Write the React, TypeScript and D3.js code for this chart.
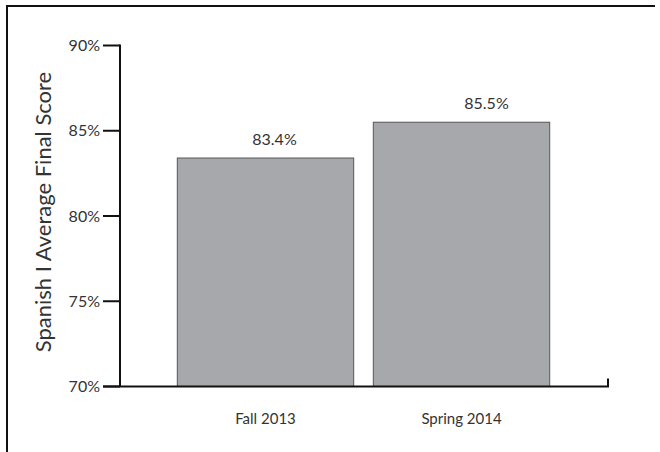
import * as d3 from 'd3'
import { useEffect, useRef } from 'react'

const categories = ['Fall 2013', 'Spring 2014']
const scores = [83.4, 85.5]
const yTicks = [70, 75, 80, 85, 90]

const width = 660, height = 452

const chart = (node: SVGSVGElement) => {
  const svg = d3.select(node)
  svg.selectAll('*').remove()

  const y = d3.scaleLinear().domain([70, 90]).range([386.5, 45.5])
  const x = d3.scaleBand<string>()
    .domain(categories)
    .range([167.5, 559.5])
    .paddingInner(0.1)
    .paddingOuter(0.05)

  const g = svg.append('g').attr('font-family', 'Lato, "Open Sans", sans-serif')

  // frame (top + left only)
  g.append('path')
    .attr('d', 'M7,452V6H655')
    .attr('fill', 'none')
    .attr('stroke', '#111')
    .attr('stroke-width', 2)

  // bars
  g.append('g')
    .selectAll('rect')
    .data(scores)
    .join('rect')
    .attr('x', (d, i) => x(categories[i])!)
    .attr('y', d => y(d))
    .attr('width', x.bandwidth())
    .attr('height', d => y(70) - y(d))
    .attr('fill', '#a7a8ab')
    .attr('stroke', '#555')
    .attr('stroke-width', 1)

  // value labels
  const nudge = [9, 25]
  g.append('g')
    .selectAll('text')
    .data(scores)
    .join('text')
    .attr('x', (d, i) => x(categories[i])! + x.bandwidth() / 2 + nudge[i])
    .attr('y', d => y(d) - 13)
    .attr('text-anchor', 'middle')
    .attr('font-size', 16)
    .attr('fill', '#333')
    .text(d => `${d.toFixed(1)}%`)

  // y axis
  const axis = g.append('g').attr('stroke', '#111').attr('stroke-width', 2)
  axis.append('line')
    .attr('x1', 120).attr('x2', 120)
    .attr('y1', y(90) - 1).attr('y2', y(70))
  axis.selectAll('line.tick')
    .data(yTicks)
    .join('line')
    .attr('class', 'tick')
    .attr('x1', 103).attr('x2', 120)
    .attr('y1', d => y(d)).attr('y2', d => y(d))

  // x axis baseline + end tick
  axis.append('path')
    .attr('fill', 'none')
    .attr('d', `M103,${y(70)}H608V${y(70) - 8}`)

  g.append('g')
    .selectAll('text')
    .data(yTicks)
    .join('text')
    .attr('x', 100)
    .attr('y', d => y(d))
    .attr('dy', '0.35em')
    .attr('text-anchor', 'end')
    .attr('font-size', 16)
    .attr('fill', '#333')
    .text(d => `${d}%`)

  g.append('g')
    .selectAll('text')
    .data(categories)
    .join('text')
    .attr('x', d => x(d)! + x.bandwidth() / 2)
    .attr('y', 424)
    .attr('text-anchor', 'middle')
    .attr('font-size', 15)
    .attr('fill', '#333')
    .text(d => d)

  g.append('text')
    .attr('transform', `translate(51,212) rotate(-90)`)
    .attr('text-anchor', 'middle')
    .attr('font-size', 22)
    .attr('fill', '#333')
    .text('Spanish I Average Final Score')
}

export default function App() {
  const svg = useRef<SVGSVGElement>(null)
  useEffect(() => {
    if (svg.current) chart(svg.current)
  }, [])
  return (
    <svg
      ref={svg}
      width={width}
      height={height}
      style={{ position: 'absolute', left: 0, top: 0, background: '#fff' }}
    />
  )
}
